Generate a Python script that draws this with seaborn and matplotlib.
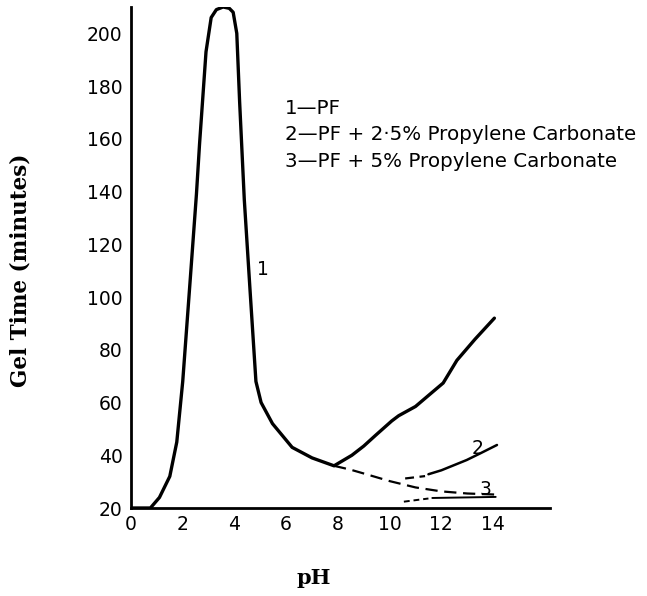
import matplotlib
matplotlib.use("Agg")
import matplotlib.pyplot as plt
import seaborn as sns
import pandas as pd

# Curve 1 : PF
ph_1 = [0.0, 0.75, 1.1, 1.5, 1.77, 2.0, 2.3, 2.53, 2.65, 2.9, 3.1, 3.3, 3.56, 3.8, 3.95, 4.09,
        4.2, 4.38, 4.6, 4.83, 5.03, 5.47, 6.23, 7.0, 7.85, 8.54, 9.0, 9.46, 10.08, 10.35, 11.0,
        11.6, 12.07, 12.6, 13.3, 14.05]
gel_1 = [20, 20, 24, 32, 45, 68, 108, 139, 158, 193, 206, 209, 210, 209.5, 208, 200,
         174, 137, 103, 68, 60, 52, 43, 39, 36, 40, 43.5, 47.6, 53, 55, 58.5,
         63.5, 67.4, 76, 84, 92]

# Dashed extrapolation from curve 1 minimum
ph_dash = [7.85, 8.5, 9.1, 10.0, 11.0, 12.0, 13.0, 14.1]
gel_dash = [36, 34.5, 32.8, 30.2, 27.8, 26.3, 25.5, 25.1]

# Curve 2 : PF + 2.5% Propylene Carbonate
ph_2_dash = [10.6, 11.37]
gel_2_dash = [31.2, 32.1]
ph_2 = [11.5, 12.0, 12.98, 13.5, 14.15]
gel_2 = [32.8, 34.3, 38.2, 40.7, 43.9]

# Curve 3 : PF + 5% Propylene Carbonate
ph_3_dash = [10.55, 11.5]
gel_3_dash = [22.4, 23.6]
ph_3 = [11.65, 14.1]
gel_3 = [23.8, 24.2]

x_ticks = [0, 2, 4, 6, 8, 10, 12, 14]
y_ticks = [20, 40, 60, 80, 100, 120, 140, 160, 180, 200]

legend_lines = ["1\u2014PF",
                "2\u2014PF + 2\u00b75% Propylene Carbonate",
                "3\u2014PF + 5% Propylene Carbonate"]

sns.set_theme(style="white")
plt.rcParams['font.family'] = ['DejaVu Sans']
plt.rcParams['text.color'] = 'black'
plt.rcParams['xtick.color'] = 'black'
plt.rcParams['ytick.color'] = 'black'

fig = plt.figure(figsize=(6.47, 5.96), dpi=100)
ax = fig.add_axes([131/647, 1-508/596, (550-131)/647, (508-7)/596])

def draw(xs, ys, lw, dashes=None):
    df = pd.DataFrame({"x": xs, "y": ys})
    sns.lineplot(data=df, x="x", y="y", sort=False, estimator=None,
                 color="black", lw=lw, ax=ax)
    l = ax.lines[-1]
    l.set_solid_capstyle("round")
    l.set_solid_joinstyle("round")
    if dashes is not None:
        l.set_dashes(dashes)

draw(ph_1, gel_1, 2.4)
draw(ph_dash, gel_dash, 1.6, (5.5, 3))
draw(ph_2_dash, gel_2_dash, 1.6, (4, 2.5))
draw(ph_2, gel_2, 1.8)
draw(ph_3_dash, gel_3_dash, 1.4, (3, 2))
draw(ph_3, gel_3, 1.4)

ax.set_xlim(0, 16.2)
ax.set_ylim(20, 210)
ax.set_xticks(x_ticks)
ax.set_yticks(y_ticks)
ax.set_xticklabels([str(t) for t in x_ticks], fontsize=13.5, color="black")
ax.set_yticklabels([str(t) for t in y_ticks], fontsize=13.5, color="black")
ax.tick_params(axis="x", direction="in", length=6, width=1.5, pad=5, colors="black")
ax.tick_params(axis="y", direction="out", length=5, width=1.5, pad=1, colors="black")
ax.set_xlabel("")
ax.set_ylabel("")
for s in ["top", "right"]:
    ax.spines[s].set_visible(False)
for s in ["left", "bottom"]:
    ax.spines[s].set_color("black")
    ax.spines[s].set_linewidth(2)
ax.grid(False)

# curve labels
ax.text(5.1, 110.5, "1", fontsize=13.5, ha="center", va="center", color="black")
ax.text(13.4, 42.5, "2", fontsize=13.5, ha="center", va="center", color="black")
ax.text(13.7, 27, "3", fontsize=13.5, ha="center", va="center", color="black")

# legend text
for i, t in enumerate(legend_lines):
    fig.text(285/647, 1 - (108 + 26.5*i)/596, t, fontsize=14.3, ha="left",
             va="center", color="black")

fig.text(21/647, 1 - 270/596, "Gel Time (minutes)", rotation=90, fontsize=15.5,
         family="DejaVu Serif", fontweight="bold", ha="center", va="center",
         color="black")
fig.text(314/647, 1 - 578/596, "pH", fontsize=15, family="DejaVu Serif",
         fontweight="bold", ha="center", va="center", color="black")

fig.savefig("out.png", dpi=100)
